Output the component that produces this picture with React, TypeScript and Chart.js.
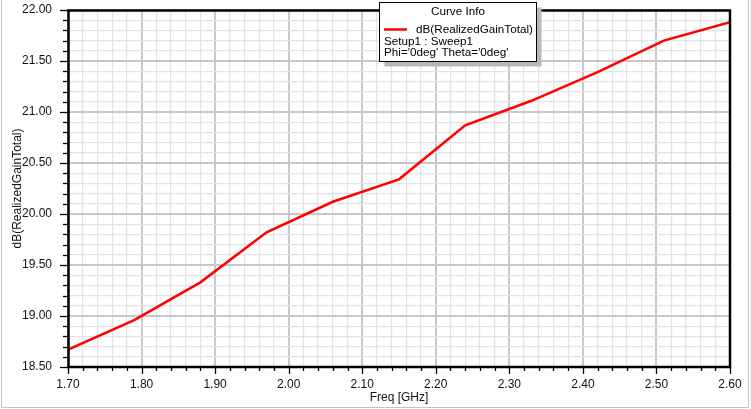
import React, { useEffect, useRef } from "react";
import { Chart, registerables } from "chart.js";

Chart.register(...registerables);

const freqGHz = [1.7, 1.79, 1.88, 1.97, 2.06, 2.15, 2.24, 2.33, 2.42, 2.51, 2.6];
const gainDb = [18.67, 18.96, 19.33, 19.82, 20.12, 20.34, 20.87, 21.11, 21.39, 21.7, 21.88];

const xMin = 1.7;
const xMax = 2.6;
const xMajorStep = 0.1;
const xMinorStep = 0.02;
const yMin = 18.5;
const yMax = 22.0;
const yMajorStep = 0.5;
const yMinorStep = 0.1;

const xTitle = "Freq [GHz]";
const yTitle = "dB(RealizedGainTotal)";
const legendTitle = "Curve Info";
const legendLines = ["dB(RealizedGainTotal)", "Setup1 : Sweep1", "Phi='0deg' Theta='0deg'"];

const FONT = "'Liberation Sans', Arial, sans-serif";

const isMajor = (v: number, step: number) => {
  const r = v / step;
  return Math.abs(r - Math.round(r)) < 1e-6;
};

const framePlugin = {
  id: "hfssFrame",
  afterDatasetsDraw(chart: any) {
    const { ctx, chartArea } = chart;
    const { left, right, top, bottom } = chartArea;
    ctx.save();
    ctx.strokeStyle = "#000";
    ctx.lineWidth = 1.3;
    const xs = chart.scales.x;
    xs.ticks.forEach((t: any) => {
      const px = Math.round(xs.getPixelForValue(t.value)) + 0.5;
      const len = isMajor(t.value, xMajorStep) ? 7 : 4;
      ctx.beginPath();
      ctx.moveTo(px, bottom);
      ctx.lineTo(px, bottom + len);
      ctx.stroke();
    });
    const ys = chart.scales.y;
    ys.ticks.forEach((t: any) => {
      const py = Math.round(ys.getPixelForValue(t.value)) + 0.5;
      const len = isMajor(t.value, yMajorStep) ? 8 : 5;
      ctx.beginPath();
      ctx.moveTo(left, py);
      ctx.lineTo(left - len, py);
      ctx.stroke();
    });
    ctx.lineWidth = 2.5;
    ctx.strokeRect(left + 0.5, top + 0.5, right - left - 0.5, bottom - top - 0.5);
    ctx.restore();
  },
  afterDraw(chart: any) {
    const { ctx } = chart;
    ctx.save();
    ctx.strokeStyle = "#c4c4c4";
    ctx.lineWidth = 1;
    ctx.beginPath();
    ctx.moveTo(1.5, 0);
    ctx.lineTo(1.5, 407.5);
    ctx.lineTo(748.5, 407.5);
    ctx.lineTo(748.5, 0);
    ctx.stroke();

    const bx = 379.5, by = 2.5, bw = 157, bh = 59;
    ctx.fillStyle = "#b8b8b8";
    ctx.fillRect(bx + 5, by + 5, bw, bh);
    ctx.fillStyle = "#fff";
    ctx.fillRect(bx, by, bw, bh);
    ctx.strokeStyle = "#000";
    ctx.lineWidth = 1;
    ctx.strokeRect(bx, by, bw, bh);

    ctx.fillStyle = "#000";
    ctx.font = `11.7px ${FONT}`;
    ctx.textBaseline = "middle";
    ctx.textAlign = "center";
    ctx.fillText(legendTitle, bx + bw / 2, 12);
    ctx.textAlign = "left";
    ctx.fillText(legendLines[0], 416, 30);
    ctx.fillText(legendLines[1], 384, 42);
    ctx.fillText(legendLines[2], 384, 53);

    ctx.strokeStyle = "#ff0000";
    ctx.lineWidth = 2.5;
    ctx.beginPath();
    ctx.moveTo(384, 29.5);
    ctx.lineTo(407, 29.5);
    ctx.stroke();
    ctx.restore();
  },
};

export default function App() {
  const ref = useRef<HTMLCanvasElement | null>(null);

  useEffect(() => {
    if (!ref.current) return;
    const chart = new Chart(ref.current, {
      type: "line",
      data: {
        datasets: [
          {
            label: legendLines[0],
            data: freqGHz.map((f, i) => ({ x: f, y: gainDb[i] })),
            borderColor: "#ff0000",
            borderWidth: 2.5,
            pointRadius: 0,
            tension: 0,
            fill: false,
          },
        ],
      },
      options: {
        animation: false,
        responsive: false,
        devicePixelRatio: 1,
        layout: { padding: { top: 10, right: 21, left: 0, bottom: 0 } },
        plugins: {
          legend: { display: false },
          tooltip: { enabled: false },
        },
        scales: {
          x: {
            type: "linear",
            min: xMin,
            max: xMax,
            afterFit: (s: any) => {
              s.height = 42;
              s.paddingLeft = 0;
              s.paddingRight = 0;
              s.paddingTop = 0;
              s.paddingBottom = 0;
            },
            border: { display: false },
            grid: {
              drawTicks: false,
              color: (c: any) => (isMajor(c.tick.value, xMajorStep) ? "#c8c8c8" : "#e3e3e3"),
              lineWidth: (c: any) => (isMajor(c.tick.value, xMajorStep) ? 2 : 1.2),
            },
            ticks: {
              stepSize: xMinorStep,
              maxTicksLimit: 1000,
              autoSkip: false,
              maxRotation: 0,
              padding: 10,
              color: "#111",
              font: { family: FONT, size: 12 },
              callback: (v: any) => (isMajor(Number(v), xMajorStep) ? Number(v).toFixed(2) : ""),
            },
            title: {
              display: true,
              text: xTitle,
              color: "#111",
              font: { family: FONT, size: 12, lineHeight: 1 },
              padding: { top: 0, bottom: 5 },
            },
          },
          y: {
            type: "linear",
            min: yMin,
            max: yMax,
            afterFit: (s: any) => {
              s.width = 68;
              s.paddingLeft = 0;
              s.paddingRight = 0;
              s.paddingTop = 0;
              s.paddingBottom = 0;
            },
            border: { display: false },
            grid: {
              drawTicks: false,
              color: (c: any) => (isMajor(c.tick.value, yMajorStep) ? "#c8c8c8" : "#e3e3e3"),
              lineWidth: (c: any) => (isMajor(c.tick.value, yMajorStep) ? 2 : 1.2),
            },
            ticks: {
              stepSize: yMinorStep,
              maxTicksLimit: 1000,
              autoSkip: false,
              padding: 16,
              color: "#111",
              font: { family: FONT, size: 12 },
              callback: (v: any) => (isMajor(Number(v), yMajorStep) ? Number(v).toFixed(2) : ""),
            },
            title: {
              display: true,
              text: yTitle,
              color: "#111",
              font: { family: FONT, size: 12, lineHeight: 1 },
              padding: { top: 12, bottom: 0 },
            },
          },
        },
      },
      plugins: [framePlugin],
    });
    return () => chart.destroy();
  }, []);

  return (
    <div style={{ position: "fixed", left: 0, top: 0, width: 751, height: 409, background: "#fff" }}>
      <canvas ref={ref} width={751} height={409} style={{ display: "block" }} />
    </div>
  );
}
